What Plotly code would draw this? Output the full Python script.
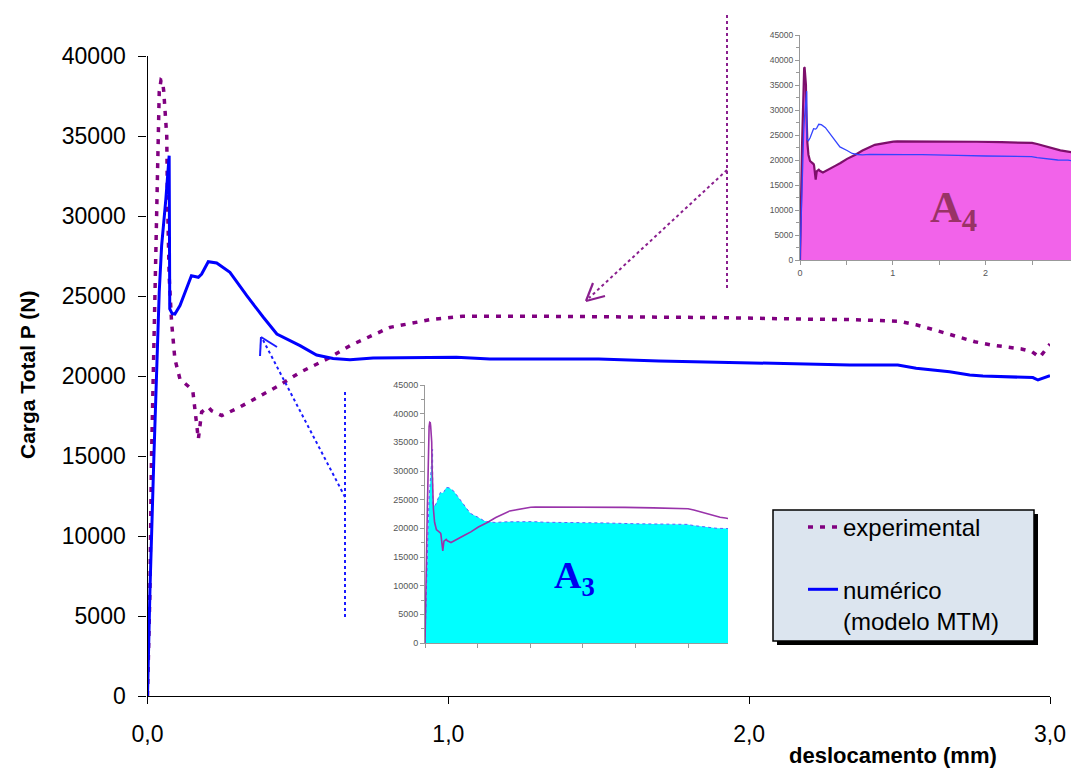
import plotly.graph_objects as go

# ---------------- data ----------------
EXP_X = [0.0, 0.004, 0.008, 0.013, 0.017, 0.022, 0.027, 0.034, 0.039, 0.045, 0.05, 0.054, 0.058,
         0.064, 0.066, 0.072, 0.08, 0.091, 0.108, 0.146, 0.151, 0.169, 0.18, 0.202, 0.213, 0.247,
         0.307, 0.384, 0.436, 0.507, 0.597, 0.673, 0.806, 0.939, 1.005, 1.048, 1.315, 1.6, 1.9,
         2.17, 2.35, 2.5, 2.555, 2.605, 2.655, 2.70, 2.75, 2.805, 2.855, 2.905, 2.94, 2.966, 3.0]
EXP_Y = [0, 3000, 6500, 14600, 18000, 23000, 28100, 33560, 37750, 38500, 38440, 37800, 36700,
         35000, 31500, 26250, 23375, 21060, 19800, 19190, 19000, 16060, 17750, 18060, 17830, 17520,
         18060, 18875, 19390, 20230, 21060, 21900, 23040, 23520, 23670, 23730, 23730, 23700, 23650,
         23560, 23520, 23420, 23200, 22940, 22670, 22400, 22140, 21940, 21790, 21690, 21520, 21170, 22000]

NUM_X = [0.0, 0.008, 0.021, 0.03, 0.039, 0.047, 0.052, 0.061, 0.072, 0.074, 0.082, 0.091, 0.108,
         0.124, 0.146, 0.169, 0.18, 0.202, 0.23, 0.274, 0.33, 0.385, 0.43, 0.507, 0.562, 0.617,
         0.673, 0.75, 0.972, 1.027, 1.138, 1.315, 1.5, 1.7, 2.0, 2.335, 2.494, 2.555, 2.666, 2.733,
         2.777, 2.888, 2.943, 2.96, 3.0]
NUM_Y = [0, 6500, 14800, 20000, 25250, 28150, 29400, 31060, 33770, 24190, 23900, 23875, 24400,
         25230, 26270, 26170, 26375, 27140, 27060, 26480, 25020, 23670, 22625, 21900, 21310, 21100,
         21020, 21125, 21170, 21170, 21060, 21060, 21060, 20940, 20800, 20690, 20690, 20480, 20270,
         20060, 20000, 19960, 19900, 19750, 20020]

X_TICKS = [0, 1, 2, 3]
X_TICKTEXT = ["0,0", "1,0", "2,0", "3,0"]
Y_TICKS = [0, 5000, 10000, 15000, 20000, 25000, 30000, 35000, 40000]
Y_TICKTEXT = [str(v) for v in Y_TICKS]
INSET_Y_TICKS = [0, 5000, 10000, 15000, 20000, 25000, 30000, 35000, 40000, 45000]
INSET_Y_TICKTEXT = [str(v) for v in INSET_Y_TICKS]
A4_X_TICKS = [0, 1, 2]
A4_X_TICKTEXT = ["0", "1", "2"]
A3_X_TICKS = [0, 0.5, 1.0, 1.5, 2.0, 2.5]

NAME_EXP = "experimental"
NAME_NUM = "numérico<br>(modelo MTM)"

# ---------------- helpers (pixel -> paper) ----------------
W, H = 1071, 769
OX, OY = 0, 0  # body margin removed by post_script
def px(x):
    return (x - OX) / W
def py(y):
    return 1 - (y - OY) / H

FONT = "Arial, Liberation Sans, sans-serif"
PURPLE = "#800080"
BLUE = "#0000FF"

fig = go.Figure()

# main chart
fig.add_trace(go.Scatter(x=EXP_X, y=EXP_Y, mode="lines", name=NAME_EXP, legendgroup="e",
                         line=dict(color=PURPLE, width=3.5, dash="5px,7px"),
                         xaxis="x", yaxis="y"))
fig.add_trace(go.Scatter(x=NUM_X, y=NUM_Y, mode="lines", name=NAME_NUM, legendgroup="n",
                         line=dict(color=BLUE, width=3),
                         xaxis="x", yaxis="y"))

# inset A4 (fill under experimental)
fig.add_trace(go.Scatter(x=EXP_X, y=EXP_Y, mode="lines", fill="tozeroy", fillcolor="#F263EA",
                         line=dict(color="#7D0F6B", width=2.2), showlegend=False,
                         xaxis="x2", yaxis="y2", hoverinfo="skip"))
fig.add_trace(go.Scatter(x=NUM_X, y=NUM_Y, mode="lines",
                         line=dict(color="#3344FF", width=1.3), showlegend=False,
                         xaxis="x2", yaxis="y2", hoverinfo="skip"))

# inset A3 (fill under numerical)
fig.add_trace(go.Scatter(x=NUM_X, y=NUM_Y, mode="lines", fill="tozeroy", fillcolor="#00FFFF",
                         line=dict(color="#6060FF", width=1, dash="dot"), showlegend=False,
                         xaxis="x3", yaxis="y3", hoverinfo="skip"))
fig.add_trace(go.Scatter(x=EXP_X, y=EXP_Y, mode="lines",
                         line=dict(color="#9933AA", width=1.6), showlegend=False,
                         xaxis="x3", yaxis="y3", hoverinfo="skip"))

axis_common = dict(showgrid=False, zeroline=False, showline=True, automargin=False)

fig.update_layout(
    template="none",
    width=W, height=H,
    margin=dict(l=0, r=0, t=0, b=0, pad=0, autoexpand=False),
    paper_bgcolor="white", plot_bgcolor="rgba(0,0,0,0)",
    font=dict(family=FONT, color="black"),
    xaxis=dict(domain=[px(147.5), px(1050)], range=[0, 3], anchor="y",
               linecolor="black", linewidth=1.3, ticks="outside", ticklen=7, tickwidth=1.3,
               tickcolor="black", tickvals=X_TICKS, ticktext=X_TICKTEXT,
               tickfont=dict(size=23), ticklabelstandoff=10, **axis_common),
    yaxis=dict(domain=[py(696), py(56)], range=[0, 40000], anchor="x",
               linecolor="black", linewidth=1.3, ticks="outside", ticklen=8, tickwidth=1.3,
               tickcolor="black", tickvals=Y_TICKS, ticktext=Y_TICKTEXT,
               tickfont=dict(size=23), ticklabelstandoff=8, **axis_common),
    xaxis2=dict(domain=[px(800), px(1071)], range=[0, 2.92], anchor="y2",
                linecolor="#999999", linewidth=1, ticks="outside", ticklen=4, tickcolor="#999999",
                tickvals=A4_X_TICKS, ticktext=A4_X_TICKTEXT,
                tickfont=dict(size=9, color="#555555"),
                minor=dict(tickvals=[0.5, 1.5, 2.5], ticks="outside", ticklen=4, tickcolor="#999999"),
                **axis_common),
    yaxis2=dict(domain=[py(260), py(35)], range=[0, 45000], anchor="x2",
                linecolor="#999999", linewidth=1, ticks="outside", ticklen=4, tickcolor="#999999",
                tickvals=INSET_Y_TICKS, ticktext=INSET_Y_TICKTEXT,
                tickfont=dict(size=8.5, color="#555555"),
                minor=dict(dtick=2500, ticks="outside", ticklen=3, tickcolor="#999999"),
                **axis_common),
    xaxis3=dict(domain=[px(425), px(728)], range=[0, 2.88], anchor="y3",
                linecolor="#999999", linewidth=1, ticks="outside", ticklen=4, tickcolor="#999999",
                tickvals=A3_X_TICKS, showticklabels=False, **axis_common),
    yaxis3=dict(domain=[py(643), py(385)], range=[0, 45000], anchor="x3",
                linecolor="#999999", linewidth=1, ticks="outside", ticklen=4, tickcolor="#999999",
                tickvals=INSET_Y_TICKS, ticktext=INSET_Y_TICKTEXT,
                tickfont=dict(size=9, color="#555555"),
                minor=dict(dtick=2500, ticks="outside", ticklen=3, tickcolor="#999999"),
                **axis_common),
    showlegend=True,
    legend=dict(x=px(803), y=py(505), xanchor="left", yanchor="top", valign="top",
                bgcolor="rgba(0,0,0,0)", borderwidth=0,
                font=dict(size=24, family=FONT, color="black"),
                tracegroupgap=28, itemwidth=30),
)

# legend box with shadow
shapes = [
    dict(type="rect", xref="paper", yref="paper", x0=px(777), x1=px(1038), y0=py(645), y1=py(514),
         fillcolor="black", line=dict(width=0), layer="above"),
    dict(type="rect", xref="paper", yref="paper", x0=px(773), x1=px(1034), y0=py(641), y1=py(510),
         fillcolor="#DCE5EF", line=dict(color="black", width=1.5), layer="above"),
]

# pointer lines (purple -> A4, blue -> A3)
def seg(x0, y0, x1, y1, color, dash="dot", width=2):
    return dict(type="line", xref="paper", yref="paper", x0=px(x0), y0=py(y0), x1=px(x1), y1=py(y1),
                line=dict(color=color, width=width, dash=dash), layer="above")

PUR_ARROW = "#8A1F8E"
BLU_ARROW = "#1A1AFF"
shapes += [
    seg(727, 15, 727, 290, PUR_ARROW),
    seg(727, 170, 589, 298, PUR_ARROW),
    seg(586, 301, 593, 283, PUR_ARROW, dash="solid", width=2.2),
    seg(586, 301, 605, 296, PUR_ARROW, dash="solid", width=2.2),
    seg(345, 392, 345, 620, BLU_ARROW),
    seg(345, 497, 263, 340, BLU_ARROW),
    seg(261, 337, 260, 356, BLU_ARROW, dash="solid", width=2),
    seg(261, 337, 277, 347, BLU_ARROW, dash="solid", width=2),
]
fig.update_layout(shapes=shapes)

annotations = [
    dict(text="<b>Carga Total P (N)</b>", x=px(27), y=py(375), xref="paper", yref="paper",
         xanchor="center", yanchor="middle",
         textangle=-90, showarrow=False, font=dict(size=21, family=FONT, color="black")),
    dict(text="<b>deslocamento (mm)</b>", x=px(893), y=py(755), xref="paper", yref="paper",
         xanchor="center", yanchor="middle",
         showarrow=False, font=dict(size=22, family=FONT, color="black")),
    dict(text="<b>A<sub>4</sub></b>", x=px(953), y=py(210), xref="paper", yref="paper",
         xanchor="center", yanchor="middle",
         showarrow=False, font=dict(size=44, family="Liberation Serif, Times New Roman, serif",
                                    color="#993366")),
    dict(text="<b>A<sub>3</sub></b>", x=px(574), y=py(578), xref="paper", yref="paper",
         xanchor="center", yanchor="middle",
         showarrow=False, font=dict(size=38, family="Liberation Serif, Times New Roman, serif",
                                    color="#0000EE")),
]
fig.update_layout(annotations=annotations)

fig.write_html("out.html", config={"displayModeBar": False},
               post_script="document.body.style.margin='0px';document.body.style.overflow='hidden';")
